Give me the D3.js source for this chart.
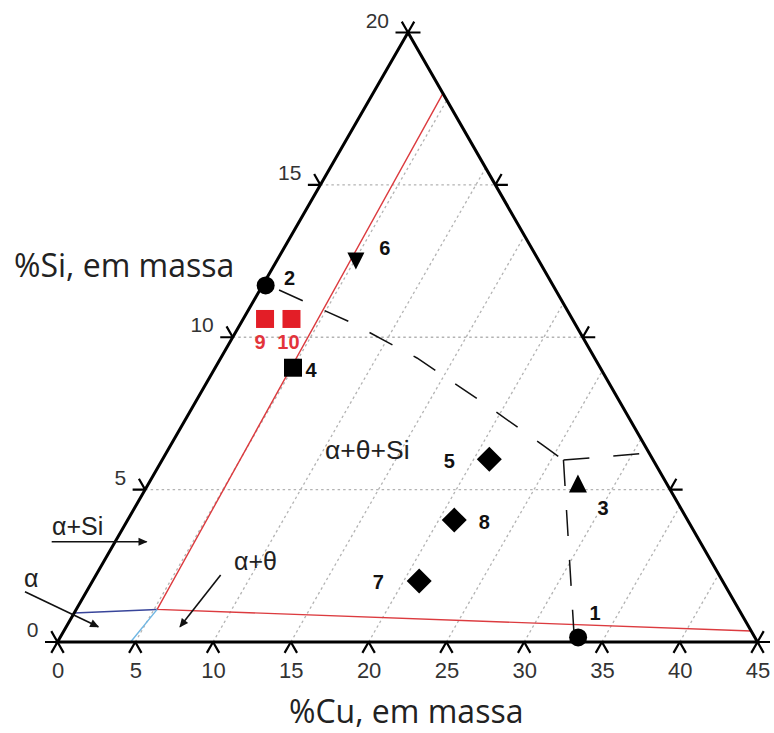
<!DOCTYPE html>
<html>
<head>
<meta charset="utf-8">
<script src="https://cdn.jsdelivr.net/npm/d3@7"></script>
<style>
  body { margin: 0; background: #fff; }
  svg { display: block; }
</style>
</head>
<body>
<svg id="chart" width="774" height="733"></svg>
<script>
// Al–Cu–Si section: %Cu along the base, %Si along the left side (skewed axes)
const cuMax = 45, siMax = 20;
const cuTicks = [0, 5, 10, 15, 20, 25, 30, 35, 40, 45];
const siTicks = [0, 5, 10, 15, 20];
const cuGrid = [5, 10, 15, 20, 25, 30, 35, 40];
const siGrid = [5, 10, 15];

// alloy compositions
const pointIds = ["1", "2", "3", "4", "5", "6", "7", "8", "9", "10"];
const pointCu  = [33.3, 0.2, 27.6, 5.0, 21.0, 5.1, 21.0, 21.0, 1.4, 3.1];
const pointSi  = [0.15, 11.7, 5.2, 9.0, 6.0, 12.5, 2.0, 4.0, 10.6, 10.6];
const pointMarker = ["circle", "circle", "triangleUp", "square", "diamond",
                     "triangleDown", "diamond", "diamond", "squareRed", "squareRed"];

// phase-field boundaries
const redBoundaryCu = [4.5, 5.2, 44.2];
const redBoundarySi = [18.0, 1.07, 0.36];
const blueBoundaryCu = [0, 5.2];
const blueBoundarySi = [0.95, 1.07];
const cyanBoundaryCu = [4.7, 5.2];
const cyanBoundarySi = [0, 1.07];

// eutectic valleys (dashed)
const valleyCu = [1.23, 6.97, 12.61, 18.41, 23.92, 25.8];
const valleySi = [11.55, 10.5, 9.32, 7.88, 6.46, 5.97];
const valleyRightCu = [25.8, 31.05];
const valleyRightSi = [5.97, 6.2];
const valleyDownCu = [25.8, 32.75];
const valleyDownSi = [5.97, 0.39];

// ---------- scales ----------
const cuScale = d3.scaleLinear().domain([0, cuMax]).range([57.5, 757.5]);
const siY = d3.scaleLinear().domain([0, siMax]).range([642, 32.5]);
const siShift = d3.scaleLinear().domain([0, siMax]).range([0, 350.5]);
const px = (cu, si) => [cuScale(cu) + siShift(si), siY(si)];
const zipPts = (cs, ss) => cs.map((c, i) => px(c, ss[i]));
const line = d3.line();

const svg = d3.select("#chart");

// arrowhead for annotations
svg.append("defs").append("marker")
  .attr("id", "arrow").attr("viewBox", "0 0 10 10")
  .attr("refX", 9).attr("refY", 5)
  .attr("markerWidth", 12).attr("markerHeight", 9)
  .attr("markerUnits", "userSpaceOnUse")
  .attr("orient", "auto")
  .append("path").attr("d", "M0,0.5 L10,5 L0,9.5 Z").attr("fill", "#111");

// ---------- dotted grid ----------
const grid = svg.append("g")
  .attr("stroke", "#b3b3b3").attr("stroke-width", 1.3)
  .attr("stroke-dasharray", "2.5,3").attr("fill", "none");
grid.selectAll("path.cu").data(cuGrid).join("path").attr("class", "cu")
  .attr("d", c => line([px(c, 0), px(c, siMax * (1 - c / cuMax))]));
grid.selectAll("path.si").data(siGrid).join("path").attr("class", "si")
  .attr("d", s => line([px(0, s), px(cuMax * (1 - s / siMax), s)]));

// ---------- phase boundaries ----------
svg.append("path").attr("d", line(zipPts(redBoundaryCu, redBoundarySi)))
  .attr("fill", "none").attr("stroke", "#dc3b3f").attr("stroke-width", 1.4);
svg.append("path").attr("d", line(zipPts(blueBoundaryCu, blueBoundarySi)))
  .attr("fill", "none").attr("stroke", "#38459a").attr("stroke-width", 1.5);
svg.append("path").attr("d", line(zipPts(cyanBoundaryCu, cyanBoundarySi)))
  .attr("fill", "none").attr("stroke", "#6fb6e3").attr("stroke-width", 1.4);

const dashed = svg.append("g").attr("fill", "none").attr("stroke", "#111")
  .attr("stroke-width", 1.5).attr("stroke-dasharray", "26,24");
dashed.append("path").attr("d", line(zipPts(valleyCu, valleySi)));
dashed.append("path").attr("d", line(zipPts(valleyRightCu, valleyRightSi)));
dashed.append("path").attr("d", line(zipPts(valleyDownCu, valleyDownSi)));

// ---------- triangle frame ----------
svg.append("path")
  .attr("d", line([px(0, 0), px(cuMax, 0), px(0, siMax)]) + "Z")
  .attr("fill", "none").attr("stroke", "#000").attr("stroke-width", 3)
  .attr("stroke-linejoin", "miter");

// tick glyphs: legs run parallel to the other two sides
const [ax, ay] = px(0, siMax), [ox, oy] = px(0, 0), [rx, ry] = px(cuMax, 0);
const norm = (dx, dy) => { const l = Math.hypot(dx, dy); return [dx / l, dy / l]; };
const leftDir = norm(ax - ox, ay - oy);
const rightDir = norm(ax - rx, ay - ry);
const L = 12.5;
const ticks = svg.append("g").attr("stroke", "#000").attr("stroke-width", 2.2).attr("fill", "none");
function legs(p, dirs) {
  return dirs.map(d => `M${p[0]},${p[1]}L${p[0] + d[0] * L},${p[1] + d[1] * L}`).join("");
}
ticks.selectAll("path.b").data(cuTicks).join("path").attr("class", "b")
  .attr("d", c => legs(px(c, 0), [[-leftDir[0], -leftDir[1]], [-rightDir[0], -rightDir[1]]]));
ticks.selectAll("path.l").data(siTicks).join("path").attr("class", "l")
  .attr("d", s => legs(px(0, s), [[-1, 0], rightDir]));
ticks.selectAll("path.r").data(siTicks).join("path").attr("class", "r")
  .attr("d", s => legs(px(cuMax * (1 - s / siMax), s), [[1, 0], leftDir]));

// ---------- axis labels ----------
const xAxis = d3.axisBottom(cuScale).tickValues(cuTicks).tickSize(0).tickPadding(20);
const xg = svg.append("g").attr("transform", `translate(0,${siY(0)})`).call(xAxis);
xg.select(".domain").remove();
xg.selectAll("text").attr("font-family", "Liberation Sans, Arial, sans-serif")
  .attr("font-size", 22).attr("fill", "#333");

svg.append("g").selectAll("text").data(siTicks).join("text")
  .attr("x", s => px(0, s)[0] - 19).attr("y", s => px(0, s)[1] - 5)
  .attr("text-anchor", "end")
  .attr("font-family", "Liberation Sans, Arial, sans-serif")
  .attr("font-size", 21).attr("fill", "#333")
  .text(s => s);

svg.append("text").attr("x", 14).attr("y", 277)
  .attr("font-family", "Open Sans, sans-serif").attr("font-size", 32).attr("fill", "#222")
  .text("%Si, em massa");
svg.append("text").attr("x", 289).attr("y", 723)
  .attr("font-family", "Open Sans, sans-serif").attr("font-size", 32).attr("fill", "#222")
  .text("%Cu, em massa");

// ---------- phase field annotations ----------
const annoFont = "Liberation Sans, Arial, sans-serif";
const annos = [
  { t: "α+θ+Si", x: 325, y: 459, s: 26.5 },
  { t: "α+Si", x: 52, y: 535, s: 25 },
  { t: "α", x: 24, y: 587, s: 25 },
  { t: "α+θ", x: 234, y: 570, s: 25 }
];
svg.append("g").selectAll("text").data(annos).join("text")
  .attr("x", d => d.x).attr("y", d => d.y)
  .attr("font-family", annoFont).attr("font-size", d => d.s).attr("fill", "#222")
  .text(d => d.t);

const arrows = [
  [[-4.08, 3.29], [2.02, 3.29]],
  [[-3.95, 1.65], [2.06, 0.5]],
  [[8.01, 2.2], [7.31, 0.5]]
];
svg.append("g").selectAll("path").data(arrows).join("path")
  .attr("d", a => line(a.map(p => px(p[0], p[1]))))
  .attr("stroke", "#111").attr("stroke-width", 1.6).attr("fill", "none")
  .attr("marker-end", "url(#arrow)");

// ---------- alloy markers ----------
const triUp = { draw(ctx, size) { const s = Math.sqrt(size) / 2;
  ctx.moveTo(0, -s); ctx.lineTo(s, s); ctx.lineTo(-s, s); ctx.closePath(); } };
const triDown = { draw(ctx, size) { const s = Math.sqrt(size) / 2;
  ctx.moveTo(0, s); ctx.lineTo(s, -s); ctx.lineTo(-s, -s); ctx.closePath(); } };
const diamond = { draw(ctx, size) { const r = Math.sqrt(size) / 2;
  ctx.moveTo(0, -r); ctx.lineTo(r, 0); ctx.lineTo(0, r); ctx.lineTo(-r, 0); ctx.closePath(); } };
const markerStyle = {
  circle:       { type: d3.symbolCircle, size: Math.PI * 81, fill: "#000" },
  square:       { type: d3.symbolSquare, size: 18 * 18, fill: "#000" },
  squareRed:    { type: d3.symbolSquare, size: 18 * 18, fill: "#e31e27" },
  diamond:      { type: diamond, size: 25 * 25, fill: "#000" },
  triangleUp:   { type: triUp, size: 18 * 18, fill: "#000" },
  triangleDown: { type: triDown, size: 17 * 17, fill: "#000" }
};
const labelOffset = {
  "1": [17, -24], "2": [24, -7], "3": [25, 24], "4": [18, 2], "5": [-40, 2],
  "6": [29, -13], "7": [-41, 1], "8": [30, 2], "9": [-5, 23], "10": [-3, 23]
};
const pts = pointIds.map((id, i) => ({ id, cu: pointCu[i], si: pointSi[i], m: pointMarker[i] }));
const gp = svg.append("g").selectAll("g").data(pts).join("g")
  .attr("transform", d => `translate(${px(d.cu, d.si)})`);
gp.append("path")
  .attr("d", d => d3.symbol(markerStyle[d.m].type, markerStyle[d.m].size)())
  .attr("fill", d => markerStyle[d.m].fill);
gp.append("text")
  .attr("x", d => labelOffset[d.id][0]).attr("y", d => labelOffset[d.id][1])
  .attr("text-anchor", "middle").attr("dominant-baseline", "central")
  .attr("font-family", "Liberation Sans, Arial, sans-serif")
  .attr("font-weight", "bold").attr("font-size", 20)
  .attr("fill", d => d.m === "squareRed" ? "#e3343b" : "#111")
  .text(d => d.id);
</script>
</body>
</html>
